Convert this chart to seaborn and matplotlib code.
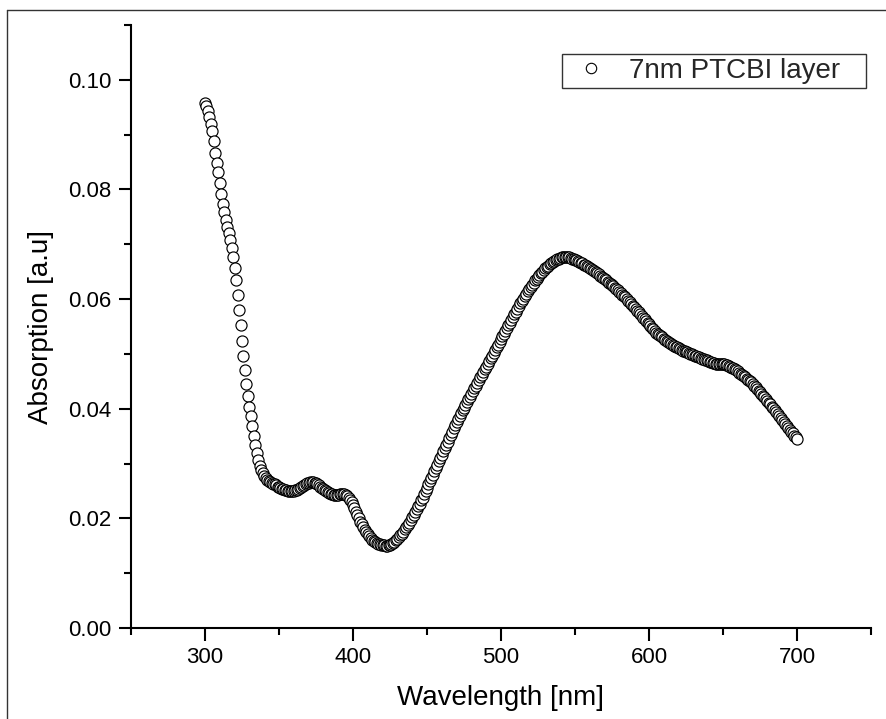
import matplotlib
matplotlib.use("Agg")
import matplotlib.pyplot as plt
from matplotlib.lines import Line2D
from matplotlib.ticker import MultipleLocator
import seaborn as sns
import pandas as pd

# Measured absorption spectrum, 1 nm steps from 300 nm to 700 nm
wavelength = list(range(300, 701))
absorbance = [
    0.0958, 0.0952, 0.0944, 0.0932, 0.0920, 0.0906, 0.0888, 0.0866, 0.0848, 0.0832,  # 300
    0.0812, 0.0792, 0.0774, 0.0758, 0.0745, 0.0732, 0.0720, 0.0707, 0.0693, 0.0676,  # 310
    0.0656, 0.0634, 0.0608, 0.0580, 0.0552, 0.0524, 0.0496, 0.0470, 0.0446, 0.0424,  # 320
    0.0404, 0.0386, 0.0368, 0.0350, 0.0334, 0.0320, 0.0306, 0.0296, 0.0288, 0.0282,  # 330
    0.0277, 0.0273, 0.0270, 0.0268, 0.0266, 0.0264, 0.0263, 0.0262, 0.0260, 0.0258,  # 340
    0.0257, 0.0255, 0.0254, 0.0253, 0.0252, 0.0251, 0.0250, 0.0250, 0.0250, 0.0250,  # 350
    0.0250, 0.0251, 0.0252, 0.0253, 0.0255, 0.0257, 0.0259, 0.0261, 0.0263, 0.0264,  # 360
    0.0265, 0.0266, 0.0266, 0.0266, 0.0265, 0.0264, 0.0262, 0.0260, 0.0258, 0.0256,  # 370
    0.0254, 0.0252, 0.0250, 0.0248, 0.0246, 0.0245, 0.0244, 0.0243, 0.0243, 0.0243,  # 380
    0.0243, 0.0244, 0.0244, 0.0244, 0.0244, 0.0243, 0.0241, 0.0238, 0.0234, 0.0229,  # 390
    0.0224, 0.0218, 0.0212, 0.0206, 0.0200, 0.0194, 0.0189, 0.0184, 0.0179, 0.0175,  # 400
    0.0171, 0.0167, 0.0164, 0.0161, 0.0159, 0.0157, 0.0155, 0.0154, 0.0153, 0.0152,  # 410
    0.0151, 0.0151, 0.0150, 0.0150, 0.0151, 0.0152, 0.0153, 0.0155, 0.0157, 0.0160,  # 420
    0.0163, 0.0166, 0.0169, 0.0172, 0.0176, 0.0180, 0.0184, 0.0188, 0.0192, 0.0197,  # 430
    0.0202, 0.0207, 0.0212, 0.0217, 0.0222, 0.0227, 0.0233, 0.0238, 0.0244, 0.0250,  # 440
    0.0256, 0.0262, 0.0268, 0.0274, 0.0280, 0.0286, 0.0292, 0.0298, 0.0304, 0.0310,  # 450
    0.0316, 0.0322, 0.0328, 0.0334, 0.0340, 0.0346, 0.0352, 0.0358, 0.0364, 0.0370,  # 460
    0.0375, 0.0381, 0.0386, 0.0392, 0.0397, 0.0402, 0.0407, 0.0412, 0.0417, 0.0422,  # 470
    0.0427, 0.0432, 0.0437, 0.0442, 0.0447, 0.0452, 0.0457, 0.0462, 0.0467, 0.0472,  # 480
    0.0477, 0.0482, 0.0487, 0.0492, 0.0497, 0.0502, 0.0507, 0.0512, 0.0517, 0.0522,  # 490
    0.0527, 0.0532, 0.0537, 0.0542, 0.0547, 0.0552, 0.0557, 0.0562, 0.0567, 0.0572,  # 500
    0.0577, 0.0582, 0.0587, 0.0592, 0.0597, 0.0601, 0.0606, 0.0610, 0.0614, 0.0618,  # 510
    0.0622, 0.0626, 0.0630, 0.0634, 0.0637, 0.0641, 0.0644, 0.0647, 0.0650, 0.0653,  # 520
    0.0656, 0.0659, 0.0661, 0.0664, 0.0666, 0.0668, 0.0670, 0.0672, 0.0673, 0.0674,  # 530
    0.0675, 0.0676, 0.0676, 0.0677, 0.0677, 0.0676, 0.0676, 0.0675, 0.0674, 0.0673,  # 540
    0.0672, 0.0671, 0.0669, 0.0668, 0.0666, 0.0665, 0.0663, 0.0662, 0.0660, 0.0658,  # 550
    0.0657, 0.0655, 0.0653, 0.0651, 0.0649, 0.0647, 0.0645, 0.0643, 0.0641, 0.0639,  # 560
    0.0637, 0.0635, 0.0632, 0.0630, 0.0628, 0.0626, 0.0623, 0.0621, 0.0618, 0.0616,  # 570
    0.0613, 0.0611, 0.0608, 0.0606, 0.0603, 0.0600, 0.0597, 0.0594, 0.0591, 0.0588,  # 580
    0.0585, 0.0582, 0.0579, 0.0576, 0.0573, 0.0570, 0.0566, 0.0563, 0.0560, 0.0557,  # 590
    0.0554, 0.0551, 0.0548, 0.0545, 0.0542, 0.0539, 0.0537, 0.0534, 0.0532, 0.0530,  # 600
    0.0528, 0.0526, 0.0524, 0.0522, 0.0520, 0.0518, 0.0516, 0.0515, 0.0513, 0.0512,  # 610
    0.0510, 0.0509, 0.0508, 0.0506, 0.0505, 0.0504, 0.0503, 0.0502, 0.0500, 0.0499,  # 620
    0.0498, 0.0497, 0.0496, 0.0495, 0.0494, 0.0493, 0.0491, 0.0490, 0.0489, 0.0488,  # 630
    0.0487, 0.0486, 0.0485, 0.0484, 0.0483, 0.0482, 0.0481, 0.0481, 0.0481, 0.0481,  # 640
    0.0481, 0.0481, 0.0480, 0.0479, 0.0478, 0.0477, 0.0475, 0.0474, 0.0472, 0.0470,  # 650
    0.0468, 0.0466, 0.0464, 0.0462, 0.0460, 0.0458, 0.0455, 0.0453, 0.0450, 0.0448,  # 660
    0.0445, 0.0442, 0.0439, 0.0436, 0.0433, 0.0430, 0.0427, 0.0424, 0.0421, 0.0418,  # 670
    0.0415, 0.0411, 0.0408, 0.0404, 0.0401, 0.0397, 0.0394, 0.0390, 0.0386, 0.0383,  # 680
    0.0379, 0.0375, 0.0372, 0.0368, 0.0365, 0.0361, 0.0358, 0.0355, 0.0351, 0.0348,  # 690
    0.0345,                                                                          # 700
]
series_label = "7nm PTCBI layer"
x_ticks = [300, 400, 500, 600, 700]
y_ticks = [0.00, 0.02, 0.04, 0.06, 0.08, 0.10]
y_tick_labels = ["0.00", "0.02", "0.04", "0.06", "0.08", "0.10"]

df = pd.DataFrame({"Wavelength": wavelength, "Absorption": absorbance})

sns.set_theme(style="ticks")
plt.rcParams["font.family"] = ["Liberation Sans", "DejaVu Sans"]
plt.rcParams["axes.linewidth"] = 1.5

fig = plt.figure(figsize=(8.87, 7.19), dpi=100)
ax = fig.add_axes([131 / 887, 1 - 628 / 719, (871 - 131) / 887, (628 - 25) / 719])

sns.scatterplot(
    data=df, x="Wavelength", y="Absorption", ax=ax,
    marker="o", s=64, facecolor="white", edgecolor="black", linewidth=0.85,
    label=series_label, clip_on=False,
)

ax.set_xlim(250, 750)
ax.set_ylim(0, 0.11)
ax.set_xticks(x_ticks)
ax.set_yticks(y_ticks)
ax.set_yticklabels(y_tick_labels)
ax.xaxis.set_minor_locator(MultipleLocator(50))
ax.yaxis.set_minor_locator(MultipleLocator(0.01))
ax.tick_params(which="major", direction="out", length=9, width=1.5,
               labelsize=16, pad=5, color="black", labelcolor="black")
ax.tick_params(which="minor", direction="out", length=5, width=1.5, color="black")

for side in ("top", "right"):
    ax.spines[side].set_visible(False)
for side in ("left", "bottom"):
    ax.spines[side].set_color("black")

ax.set_xlabel("Wavelength [nm]", fontsize=20, labelpad=12, color="black")
ax.set_ylabel("Absorption [a.u]", fontsize=20, labelpad=10, color="black")

ax.legend_.remove()
handle = Line2D([], [], linestyle="none", marker="o", markersize=7.5,
                markerfacecolor="white", markeredgecolor="black", markeredgewidth=0.8)
leg = fig.legend(
    [handle], [series_label],
    loc="lower left", mode="expand",
    bbox_to_anchor=(562 / 887, 1 - 88 / 719, (866 - 562) / 887, 35 / 719),
    borderaxespad=0, borderpad=0.15, handlelength=1.8, handletextpad=0.47,
    fontsize=20, frameon=True, fancybox=False, edgecolor="black",
)
leg.get_frame().set_linewidth(1.0)

# page frame lines at the left and top
fig.add_artist(Line2D([7 / 887, 7 / 887], [0, 1 - 10 / 719], color="#333333", linewidth=1.0))
fig.add_artist(Line2D([7 / 887, 1], [1 - 10 / 719, 1 - 10 / 719], color="#333333", linewidth=1.0))

fig.savefig("out.png", dpi=100)
